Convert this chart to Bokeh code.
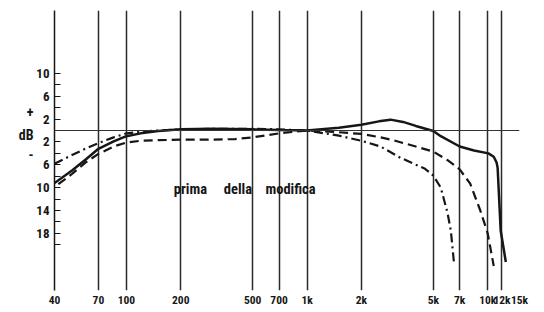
from bokeh.plotting import figure
from bokeh.models import Range1d, FixedTicker, Span, Label, LinearAxis
from bokeh.embed import file_html
from bokeh.resources import INLINE

# frequency grid / tick labels
x_ticks = [40, 70, 100, 200, 500, 700, 1000, 2000, 5000, 7000, 10000, 12000, 15000]
x_labels = ["40", "70", "100", "200", "500", "700", "1k", "2k", "5k", "7k", "10k", "12k", "15k"]

# dB ticks (labels shown as absolute values)
y_ticks = [10, 6, 2, -2, -6, -10, -14, -18]
y_labels = ["10", "6", "2", "2", "6", "10", "14", "18"]
y_minor = [8, 4, -4, -8, -12, -16, -20]

# sign / unit marks beside the dB scale
sign_pos = [3.2, -0.7, -4.2]
sign_labels = ["+", "dB", "-"]

# solid curve
solid_f = [40, 50, 60, 70, 85, 100, 120, 150, 200, 300, 500, 700, 1000, 1500, 2000, 2500,
           2900, 3400, 4000, 5000, 5500, 7000, 8400, 10100, 10800, 11200, 11350, 11800, 12600]
solid_db = [-9.2, -7.0, -5.0, -3.2, -1.9, -1.0, -0.5, -0.1, 0.2, 0.3, 0.2, 0.1, 0.0, 0.5, 1.0, 1.6,
            1.9, 1.5, 0.8, -0.1, -1.0, -2.8, -3.5, -4.0, -4.6, -5.6, -6.5, -17.5, -23.0]

# dash-dot curve
dd_f = [40, 50, 60, 70, 85, 100, 120, 150, 200, 300, 500, 700, 1000, 1500, 2000, 2550,
        3300, 4500, 5000, 5500, 6000, 6250, 6500]
dd_db = [-5.8, -4.3, -3.1, -2.2, -1.2, -0.5, -0.2, 0.0, 0.2, 0.3, 0.3, 0.2, 0.0, -0.9, -1.8, -2.8,
         -4.8, -6.7, -7.9, -10.0, -14.5, -17.5, -23.0]

# dashed curve
da_f = [42, 50, 60, 70, 85, 100, 120, 150, 200, 300, 400, 500, 700, 1000, 1500, 2000, 2550,
        3000, 4000, 5000, 6000, 7000, 8000, 9100, 10000, 10800]
da_db = [-9.4, -7.6, -5.5, -4.1, -2.8, -2.1, -1.8, -1.7, -1.6, -1.6, -1.5, -1.2, -0.5, 0.0, -0.3, -0.6, -1.2,
         -1.7, -2.8, -3.7, -5.2, -6.8, -9.3, -14.0, -18.0, -23.7]

NB = "\u00a0"
caption = "prima" + NB * 5 + "della" + NB * 4 + "modifica"
FONT = "Roboto Condensed"
INK = "#161616"

p = figure(width=544, height=312, x_axis_type="log",
           x_range=Range1d(40, 15000), y_range=Range1d(-28, 21),
           output_backend="svg", toolbar_location=None,
           min_border_left=54, min_border_right=25, min_border_top=10, min_border_bottom=22)
p.outline_line_color = None
p.background_fill_color = "white"
p.border_fill_color = "white"

# x axis: labels only
xa = p.xaxis[0]
xa.ticker = FixedTicker(ticks=x_ticks)
xa.major_label_overrides = dict(zip(x_ticks, x_labels))
xa.axis_line_color = None
xa.major_tick_line_color = None
xa.minor_tick_line_color = None
xa.major_tick_out = 0
xa.major_tick_in = 0
xa.major_label_standoff = 2
xa.major_label_text_font = FONT
xa.major_label_text_font_style = "bold"
xa.major_label_text_font_size = "11.5px"
xa.major_label_text_color = INK

# y axis
ya = p.yaxis[0]
ya.ticker = FixedTicker(ticks=y_ticks, minor_ticks=y_minor)
ya.major_label_overrides = dict(zip(y_ticks, y_labels))
ya.axis_line_color = INK
ya.axis_line_width = 1.5
ya.major_tick_in = 6
ya.major_tick_out = 0
ya.minor_tick_in = 6
ya.minor_tick_out = 0
ya.major_tick_line_color = INK
ya.minor_tick_line_color = INK
ya.major_tick_line_width = 1.2
ya.minor_tick_line_width = 1.2
ya.major_label_standoff = 5
ya.major_label_text_font = FONT
ya.major_label_text_font_style = "bold"
ya.major_label_text_font_size = "13px"
ya.major_label_text_color = INK

# second left axis carrying "+", "dB", "-"
sa = LinearAxis(ticker=FixedTicker(ticks=sign_pos),
                major_label_overrides=dict(zip(sign_pos, sign_labels)),
                axis_line_color=None, major_tick_line_color=None, minor_tick_line_color=None,
                major_tick_in=0, major_tick_out=0,
                major_label_standoff=0, major_label_text_font=FONT,
                major_label_text_font_style="bold", major_label_text_font_size="14px",
                major_label_text_color=INK)
p.add_layout(sa, "left")

p.xgrid.ticker = FixedTicker(ticks=x_ticks)
p.xgrid.grid_line_color = "#2a2a2a"
p.xgrid.grid_line_width = 1.5
p.ygrid.grid_line_color = None

p.add_layout(Span(location=0, dimension="width", line_color="#333333", line_width=1))

p.line(solid_f, solid_db, line_color=INK, line_width=2.5)
p.line(da_f, da_db, line_color=INK, line_width=2.2, line_dash="9 5")
p.line(dd_f, dd_db, line_color=INK, line_width=2.2, line_dash="9 4 2 4")

p.add_layout(Label(x=452, y=-10.4, text=caption, text_align="center", text_baseline="middle",
                   text_font=FONT, text_font_style="bold", text_font_size="14.5px", text_color=INK))

open("out.html", "w").write(file_html(p, INLINE))
